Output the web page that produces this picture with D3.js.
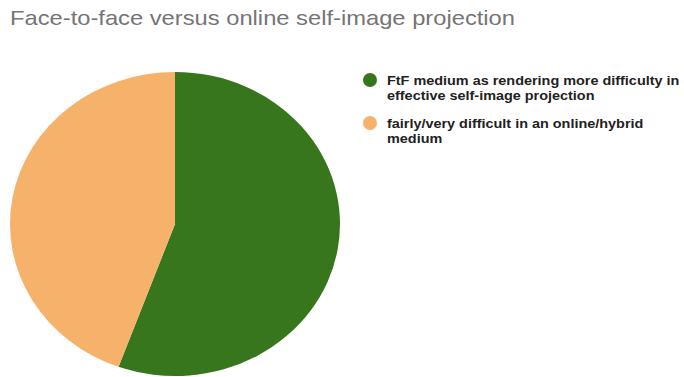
<!DOCTYPE html>
<html>
<head>
<meta charset="utf-8">
<script src="https://cdn.jsdelivr.net/npm/d3@7"></script>
<style>
  body { margin: 0; background: #fff; }
  text { font-family: "Liberation Sans", Arial, sans-serif; }
</style>
</head>
<body>
<svg width="684" height="377"></svg>
<script>
var title = 'Face-to-face versus online self-image projection'
var labels = ['FtF medium as rendering more difficulty in effective self-image projection',
              'fairly/very difficult in an online/hybrid medium']
var legendLines = [['FtF medium as rendering more difficulty in', 'effective self-image projection'],
                   ['fairly/very difficult in an online/hybrid', 'medium']]
var values = [5, 4]
var colors = ['#38761d', '#f6b26b']

var svg = d3.select('svg')

// the original is stretched a little sideways, text too
var sx = 1.11

svg.append('text')
  .attr('x', 10).attr('y', 25)
  .attr('font-size', 21)
  .attr('fill', '#757575')
  .attr('textLength', 505)
  .attr('lengthAdjust', 'spacingAndGlyphs')
  .text(title)

var r = 165
  , cx = 175
  , cy = 224
  , sy = 152 / 165

var pie = d3.pie().sort(null).value(function (d) { return d })
var arc = d3.arc().innerRadius(0).outerRadius(r)

var g = svg.append('g')
  .attr('transform', 'translate(' + cx + ',' + cy + ') scale(1,' + sy + ')')

g.selectAll('path').data(pie(values))
  .enter().append('path')
  .attr('d', arc)
  .attr('fill', function (d, i) { return colors[i] })

var leg = svg.selectAll('.leg').data(labels)
  .enter().append('g')
  .attr('class', 'leg')
  .attr('transform', function (d, i) { return 'translate(370,' + (80 + i * 43) + ')' })

leg.append('circle')
  .attr('r', 7)
  .attr('fill', function (d, i) { return colors[i] })

leg.each(function (d, i) {
  var t = d3.select(this).append('text')
    .attr('transform', 'translate(17,0) scale(' + sx + ',1)')
    .attr('y', 4.5)
    .attr('font-size', 13)
    .attr('font-weight', 'bold')
    .attr('fill', '#222')
  legendLines[i].forEach(function (line, j) {
    t.append('tspan').attr('x', 0).attr('dy', j ? 16 : 0).text(line)
  })
})
</script>
</body>
</html>
